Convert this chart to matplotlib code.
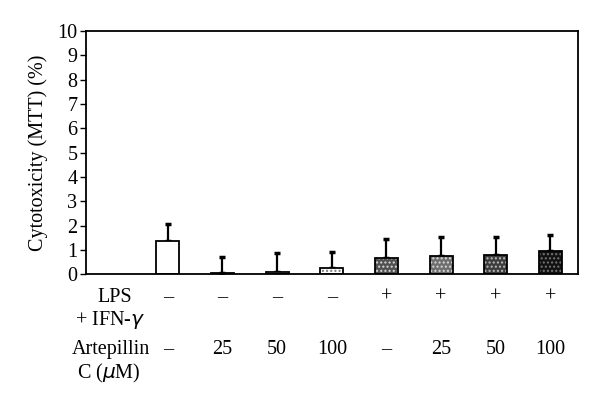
import matplotlib.pyplot as plt
import numpy as np

plt.rcParams["font.family"] = ["Liberation Serif", "DejaVu Serif"]

# data
groups = ["", "ctrl", "A25", "A50", "A100", "LPS", "LPS+A25", "LPS+A50", "LPS+A100"]
cytotoxicity = [np.nan, 1.37, 0.06, 0.10, 0.26, 0.67, 0.74, 0.81, 0.95]
sd = [np.nan, 0.69, 0.64, 0.77, 0.66, 0.76, 0.77, 0.74, 0.67]
lps_row = ["–", "–", "–", "–", "+", "+", "+", "+"]
artepillin_row = ["–", "25", "50", "100", "–", "25", "50", "100"]
y_ticks = list(range(0, 11))

bar_colors = ["white", "white", "white", "white", "white", "#505050", "#6e6e6e", "#3c3c3c", "#111111"]
hatches = ["", "", "", "", "....", "....", "....", "....", "...."]
hatch_colors = ["white", "white", "white", "white", "#777777", "#d8d8d8", "#d8d8d8", "#bbbbbb", "#777777"]

fig = plt.figure(figsize=(6, 4.05), dpi=100)
ax = fig.add_axes([0.143, 0.323, 0.82, 0.6])

x = np.arange(len(groups))
width = 0.42

# bars (fill + dotted pattern), then outline and error bars
for i in x:
    if np.isnan(cytotoxicity[i]):
        continue
    ax.bar(x[i], cytotoxicity[i], width=width, color=bar_colors[i],
           hatch=hatches[i], edgecolor=hatch_colors[i], linewidth=0, zorder=2)
ax.bar(x, cytotoxicity, width=width, fill=False, edgecolor="black",
       linewidth=1.3, zorder=3)
ax.errorbar(x, cytotoxicity, yerr=[np.zeros(len(sd)), sd], fmt="none",
            ecolor="black", elinewidth=1.6, capsize=2.5, capthick=2.5, zorder=1)

ax.set_xlim(-0.5, len(groups) - 0.5)
ax.set_ylim(0, 10)
ax.set_yticks(y_ticks)
ax.tick_params(axis="y", direction="out", length=4, width=1, labelsize=14.5, pad=2)
ax.set_xticks([])
for side in ["left", "right", "top", "bottom"]:
    ax.spines[side].set_linewidth(1.3)
ax.set_ylabel("Cytotoxicity (MTT) (%)", fontsize=14.5, labelpad=7)

# treatment table under the axis
trans = ax.get_xaxis_transform()
fs = 14.5
ax.text(0.03, -0.095, "LPS", transform=trans, ha="center", va="center", fontsize=fs)
ax.text(-0.06, -0.19, "+ IFN-$\\gamma$", transform=trans, ha="center", va="center", fontsize=fs)
ax.text(-0.04, -0.31, "Artepillin", transform=trans, ha="center", va="center", fontsize=fs)
ax.text(-0.08, -0.407, "C ($\\mu$M)", transform=trans, ha="center", va="center", fontsize=fs)
for cx, s in zip(x[1:], lps_row):
    ax.text(cx, -0.095, s, transform=trans, ha="center", va="center", fontsize=fs)
for cx, s in zip(x[1:], artepillin_row):
    ax.text(cx, -0.31, s, transform=trans, ha="center", va="center", fontsize=fs)

fig.savefig("out.png", dpi=100)
